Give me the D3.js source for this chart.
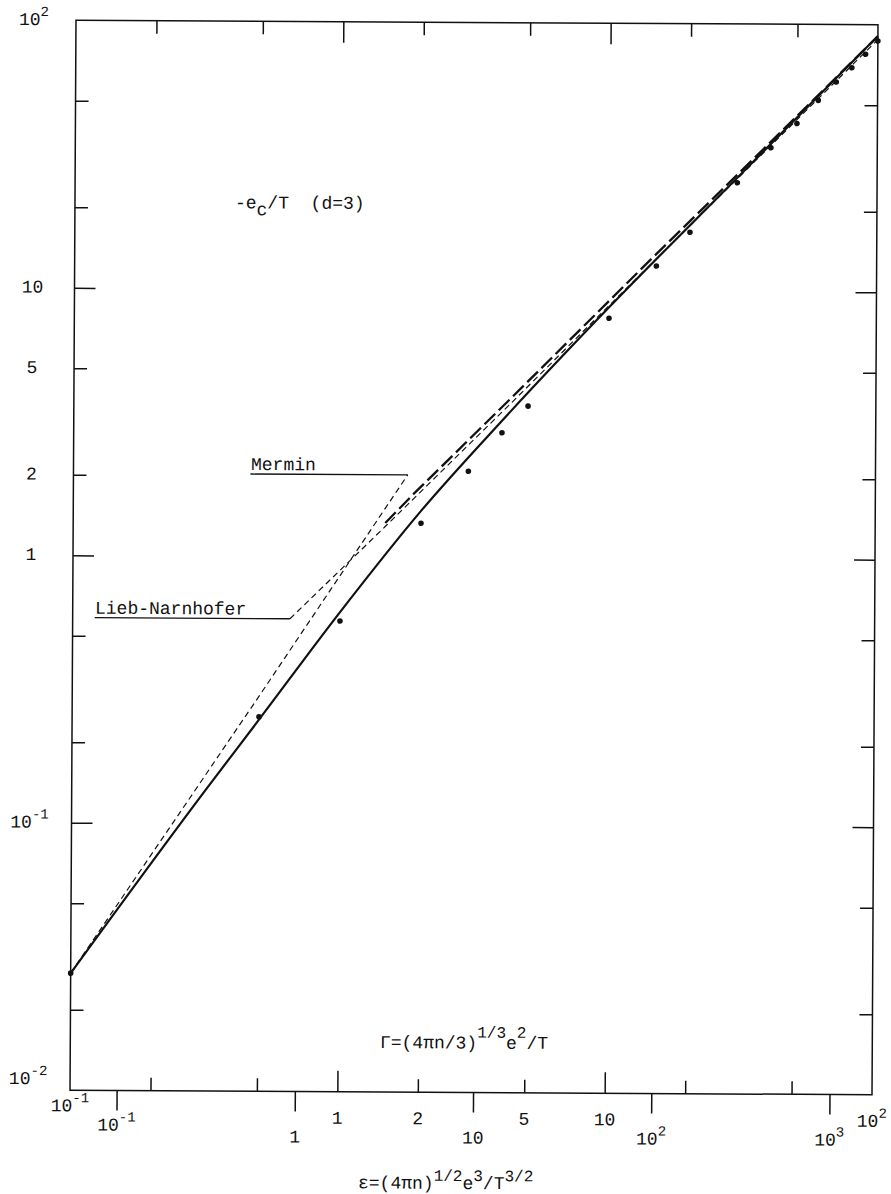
<!DOCTYPE html>
<html>
<head>
<meta charset="utf-8">
<script src="https://cdn.jsdelivr.net/npm/d3@7"></script>
<style>
  body { margin: 0; background: #fff; }
  svg { display: block; }
  text { font-family: "Liberation Mono", "DejaVu Sans Mono", monospace; fill: #111; white-space: pre; }
</style>
</head>
<body>
<svg id="chart"></svg>
<script>
var width = 891;
var height = 1194;

// plot frame, before the slight tilt of the scanned page
var frame = {left: 73, right: 875, top: 22.5, bottom: 1092.5};
var tilt = 0.32;

// solid curve
var solidGamma  = [0.1, 0.316, 0.5, 1, 2, 4, 10, 30, 100];
var solidValues = [0.0274, 0.133, 0.245, 0.621, 1.49, 3.25, 8.67, 26.6, 90.8];

// long dashed curve
var longGamma  = [1.47, 1.87, 4.41, 10.4, 14.6, 30, 100];
var longValues = [1.34, 1.72, 4.03, 9.53, 13.4, 27.3, 90.5];

// Lieb-Narnhofer (thin dashes)
var lnGamma  = [0.65, 1.47, 4.41, 10, 100];
var lnValues = [0.585, 1.30, 3.86, 8.8, 88];

// Mermin (thin dashes)
var merminGamma  = [0.1, 0.5, 1.78];
var merminValues = [0.0274, 0.30, 2.03];

// points
var dotGamma  = [0.1, 0.5, 1, 2, 3, 4, 5, 10, 15, 20, 30, 40, 50, 60, 70, 80, 90, 100];
var dotValues = [0.0274, 0.251, 0.575, 1.34, 2.10, 2.93, 3.69, 7.89, 12.4, 16.6, 25.5, 34.5, 42.6, 52, 61, 69, 77.5, 87];

// ticks and tick labels
var gammaTicks = [0.2, 0.5, 1, 2, 5, 10, 20, 50];
var valueTicks = [0.02, 0.05, 0.1, 0.2, 0.5, 1, 2, 5, 10, 20, 50];
var majorTicks = [0.1, 1, 10];
var epsTicks = [0.1, 1, 10, 100, 1000];

var gammaLabelValues = [0.1, 1, 2, 5, 10, 100];
var gammaLabelText   = ["10^{-1}", "1", "2", "5", "10", "10^{2}"];
var epsLabelValues = [0.1, 1, 10, 100, 1000];
var epsLabelText   = ["10^{-1}", "1", "10", "10^{2}", "10^{3}"];
var yLabelValues = [100, 10, 5, 2, 1, 0.1, 0.01];
var yLabelText   = ["10^{2}", "10", "5", "2", "1", "10^{-1}", "10^{-2}"];

var x = d3.scaleLog().domain([0.1, 100]).range([frame.left, frame.right]);
var y = d3.scaleLog().domain([0.01, 100]).range([frame.bottom, frame.top]);
// eps = sqrt(3) * Gamma^(3/2), second scale under the Gamma axis
var xEps = d3.scaleLog()
    .domain([Math.sqrt(3) * Math.pow(0.1, 1.5), Math.sqrt(3) * Math.pow(100, 1.5)])
    .range([frame.left, frame.right]);

var svg = d3.select("#chart").attr("width", width).attr("height", height);
svg.append("rect").attr("width", width).attr("height", height).attr("fill", "#fff");

var g = svg.append("g")
    .attr("transform", `rotate(${tilt}, ${(frame.left + frame.right) / 2}, ${(frame.top + frame.bottom) / 2})`);

//文字里的上标 ^{..} 和下标 _{..}
function rich(sel, str, supSize, raise, subShift){
    var parts = [];
    var last = 0;
    str.replace(/([\^_])\{([^}]*)\}/g, function(m, kind, s, off){
        if(off > last) parts.push({t: str.slice(last, off), k: ""});
        parts.push({t: s, k: kind});
        last = off + m.length;
    });
    if(last < str.length) parts.push({t: str.slice(last), k: ""});
    var cur = 0;
    parts.forEach(function(p){
        var target = p.k === "^" ? -raise : (p.k === "_" ? subShift : 0);
        var ts = sel.append("tspan").attr("dy", target - cur).text(p.t);
        if(p.k === "^") ts.attr("font-size", supSize);
        cur = target;
    });
    return sel;
}

var isMajor = d => majorTicks.some(m => Math.abs(m - d) < 1e-9);

// frame
g.append("rect")
    .attr("x", frame.left).attr("y", frame.top)
    .attr("width", frame.right - frame.left)
    .attr("height", frame.bottom - frame.top)
    .attr("fill", "none").attr("stroke", "#111").attr("stroke-width", 1.5);

function styleTicks(ax, sign, horizontal){
    ax.select(".domain").remove();
    ax.selectAll(".tick line")
        .attr("stroke", "#111").attr("stroke-width", 1.5)
        .attr(horizontal ? "x2" : "y2", d => sign * (isMajor(d) ? 21 : 13));
}

g.append("g").attr("transform", `translate(0,${frame.bottom})`)
    .call(d3.axisTop(x).tickValues(gammaTicks).tickFormat(""))
    .call(ax => styleTicks(ax, -1, false));
g.append("g").attr("transform", `translate(0,${frame.top})`)
    .call(d3.axisBottom(x).tickValues(gammaTicks).tickFormat(""))
    .call(ax => styleTicks(ax, 1, false));
g.append("g").attr("transform", `translate(${frame.left},0)`)
    .call(d3.axisRight(y).tickValues(valueTicks).tickFormat(""))
    .call(ax => styleTicks(ax, 1, true));
g.append("g").attr("transform", `translate(${frame.right},0)`)
    .call(d3.axisLeft(y).tickValues(valueTicks).tickFormat(""))
    .call(ax => styleTicks(ax, -1, true));
g.append("g").attr("transform", `translate(0,${frame.bottom})`)
    .call(d3.axisBottom(xEps).tickValues(epsTicks).tickSize(20).tickFormat(""))
    .call(ax => {
        ax.select(".domain").remove();
        ax.selectAll(".tick line").attr("stroke", "#111").attr("stroke-width", 1.5);
    });

// tick labels
gammaLabelValues.forEach(function(v, i){
    var t = g.append("text").attr("x", x(v)).attr("text-anchor", "middle")
        .attr("y", frame.bottom + (i === 0 ? 21 : 32)).attr("font-size", 18);
    rich(t, gammaLabelText[i], 14, 9, 0);
});
epsLabelValues.forEach(function(v, i){
    var t = g.append("text").attr("x", xEps(v)).attr("text-anchor", "middle")
        .attr("y", frame.bottom + (i === 0 ? 40 : 51)).attr("font-size", 18);
    rich(t, epsLabelText[i], 14, 9, 0);
});
yLabelValues.forEach(function(v, i){
    var t = g.append("text").attr("x", 31).attr("text-anchor", "middle")
        .attr("y", y(v) + (v === 0.01 ? -6 : 5)).attr("font-size", 18);
    rich(t, yLabelText[i], 14, 9, 0);
});

// curves
var pairs = (xs, ys) => xs.map((v, i) => [v, ys[i]]);
var line = d3.line().x(d => x(d[0])).y(d => y(d[1]));

g.append("path").attr("d", line(pairs(merminGamma, merminValues)))
    .attr("fill", "none").attr("stroke", "#111").attr("stroke-width", 1.2)
    .attr("stroke-dasharray", "6,4");
g.append("path").attr("d", line(pairs(lnGamma, lnValues)))
    .attr("fill", "none").attr("stroke", "#111").attr("stroke-width", 1.2)
    .attr("stroke-dasharray", "6,4");
g.append("path").attr("d", line(pairs(longGamma, longValues)))
    .attr("fill", "none").attr("stroke", "#111").attr("stroke-width", 2.3)
    .attr("stroke-dasharray", "15,5");
g.append("path").attr("d", line.curve(d3.curveMonotoneX)(pairs(solidGamma, solidValues)))
    .attr("fill", "none").attr("stroke", "#111").attr("stroke-width", 2.2);

g.append("g").selectAll("circle")
    .data(pairs(dotGamma, dotValues))
    .join("circle")
    .attr("cx", d => x(d[0])).attr("cy", d => y(d[1]))
    .attr("r", 2.8).attr("fill", "#111");

// labels with leader lines
var mEnd = [x(merminGamma[merminGamma.length - 1]), y(merminValues[merminValues.length - 1])];
g.append("line").attr("x1", 250).attr("y1", mEnd[1]).attr("x2", mEnd[0]).attr("y2", mEnd[1])
    .attr("stroke", "#111").attr("stroke-width", 1.3);
g.append("text").attr("x", 250.5).attr("y", mEnd[1] - 4).attr("font-size", 18).text("Mermin");

var lnStart = [x(lnGamma[0]), y(lnValues[0])];
g.append("line").attr("x1", 95).attr("y1", lnStart[1]).attr("x2", lnStart[0]).attr("y2", lnStart[1])
    .attr("stroke", "#111").attr("stroke-width", 1.3);
g.append("text").attr("x", 95.3).attr("y", lnStart[1] - 4).attr("font-size", 18).text("Lieb-Narnhofer");

rich(g.append("text").attr("x", 233).attr("y", 209.5).attr("font-size", 18),
    "-e_{c}/T  (d=3)", 18, 0, 7);

rich(g.append("text").attr("x", 382.7).attr("y", 1048.5).attr("font-size", 18),
    "Γ=(4πn/3)^{1/3}e^{2}/T", 16, 11, 0);

rich(g.append("text").attr("x", 361.5).attr("y", 1189).attr("font-size", 18),
    "ε=(4πn)^{1/2}e^{3}/T^{3/2}", 16, 8, 0);
</script>
</body>
</html>
